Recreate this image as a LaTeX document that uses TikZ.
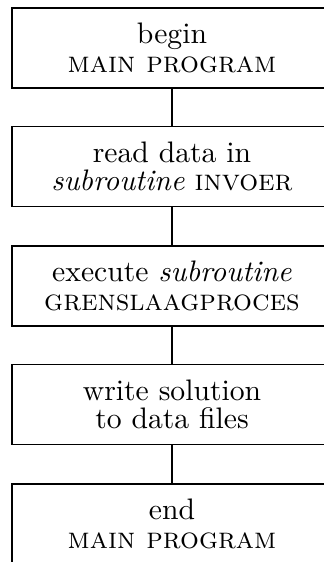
\documentclass[tikz,border=0pt]{standalone}
\begin{document}
\begin{tikzpicture}[x=0.337pt, y=-0.337pt,
  stepbox/.style={draw, line width=0.5pt, minimum width=320*0.337pt,
    minimum height=80*0.337pt, inner sep=0pt, align=center,
    font=\fontsize{10}{9.5}\selectfont},
  link/.style={line width=0.75pt}]
\useasboundingbox (0,0) rectangle (324,562);
\clip (0,0) rectangle (324,562);
\node[stepbox] (main)  at (172,48)    {begin\\\textsc{main program}};
\node[stepbox] (read)  at (172,166.5) {read data in\\\textit{subroutine} \textsc{invoer}};
\node[stepbox] (exec)  at (172,286)   {execute \textit{subroutine}\\\textsc{grenslaagproces}};
\node[stepbox] (write) at (172,404.5) {write solution\\to data files};
\node[stepbox] (stop)  at (172,524)   {end\\\textsc{main program}};
\draw[link] (main.south) -- (read.north);
\draw[link] (read.south) -- (exec.north);
\draw[link] (exec.south) -- (write.north);
\draw[link] (write.south) -- (stop.north);
\end{tikzpicture}
\end{document}
